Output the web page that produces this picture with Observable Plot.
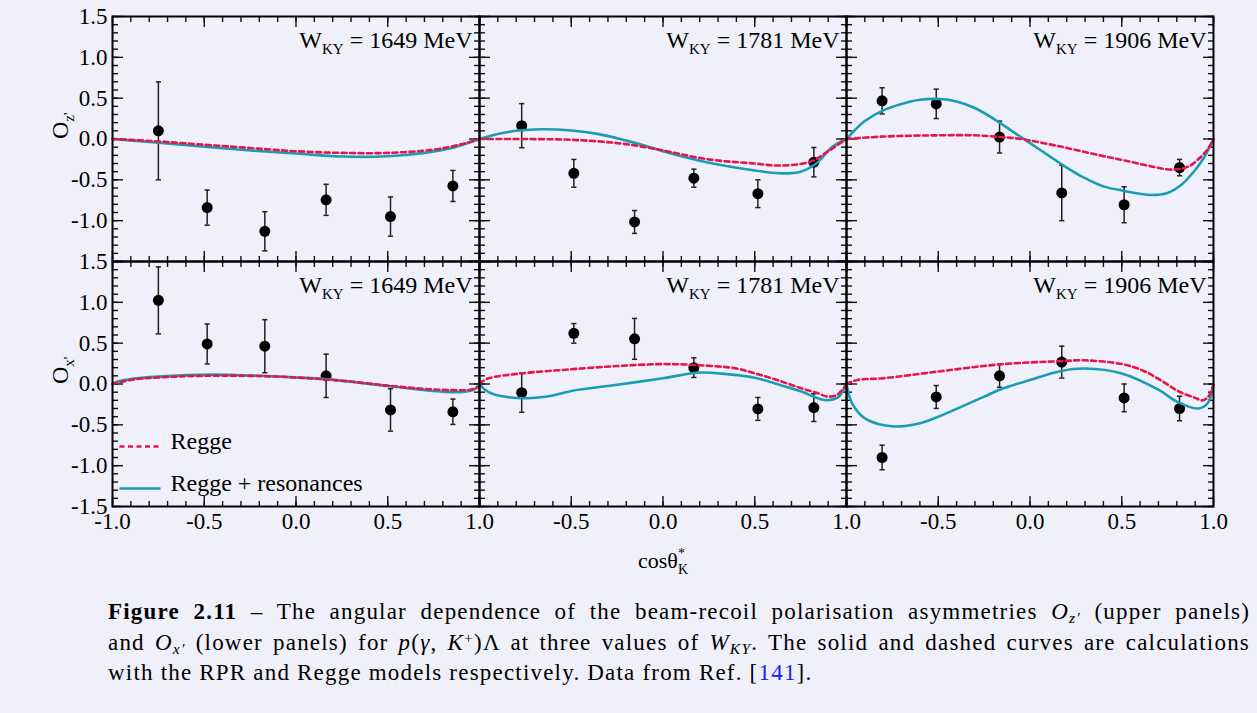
<!DOCTYPE html>
<html>
<head>
<meta charset="utf-8">
<script src="https://cdn.jsdelivr.net/npm/d3@7"></script>
<script src="https://cdn.jsdelivr.net/npm/@observablehq/plot@0.6"></script>
<style>
  html, body { margin: 0; padding: 0; background: #f0f0fb; }
  #chart svg { display: block; }
  #caption {
    position: absolute; left: 108px; top: 597px; width: 1142px;
    font-family: "Liberation Serif", serif; font-size: 23px; line-height: 30.5px; color: #000;
    letter-spacing: 1.2px;
  }
  #caption .j { text-align: justify; text-align-last: justify; }
  #caption sub { font-size: 0.68em; vertical-align: -0.28em; line-height: 0; }
  #caption sup { font-size: 0.68em; vertical-align: 0.45em; line-height: 0; }
  #caption .ref { color: #1a1aff; }
</style>
</head>
<body>
<div id="chart"></div>
<div id="caption">
  <div class="j"><b>Figure 2.11</b> – The angular dependence of the beam-recoil polarisation asymmetries <i>O</i><sub><i>z′</i></sub> (upper panels)</div>
  <div class="j">and <i>O</i><sub><i>x′</i></sub> (lower panels) for <i>p</i>(<i>γ</i>, <i>K</i><sup>+</sup>)Λ at three values of <i>W</i><sub><i>KY</i></sub>. The solid and dashed curves are calculations</div>
  <div>with the RPR and Regge models respectively. Data from Ref. [<span class="ref">141</span>].</div>
</div>
<script>
// Photon energies (panel columns) and observables (panel rows)
const energies = [1649, 1781, 1906];
const observables = ["Oz", "Ox"];
const observableTitles = ["O_{z'}", "O_{x'}"];

// Kaon angles of the measured points at each energy
const cos1649 = [-0.75, -0.484, -0.17, 0.164, 0.515, 0.855];
const cos1781 = [-0.77, -0.486, -0.155, 0.168, 0.517, 0.822];
const cos1906 = [-0.806, -0.511, -0.166, 0.173, 0.513, 0.815];

// Measured O_z' with uncertainties
const oz1649 = [0.10, -0.84, -1.13, -0.745, -0.95, -0.575];
const oz1649Err = [0.60, 0.215, 0.24, 0.19, 0.24, 0.19];
const oz1781 = [0.163, -0.42, -1.016, -0.48, -0.67, -0.284];
const oz1781Err = [0.27, 0.17, 0.14, 0.11, 0.17, 0.18];
const oz1906 = [0.467, 0.43, 0.024, -0.66, -0.805, -0.35];
const oz1906Err = [0.16, 0.18, 0.195, 0.34, 0.22, 0.10];

// Measured O_x' with uncertainties
const ox1649 = [1.024, 0.49, 0.463, 0.10, -0.317, -0.34];
const ox1649Err = [0.41, 0.245, 0.325, 0.265, 0.26, 0.155];
const ox1781 = [-0.106, 0.62, 0.553, 0.20, -0.305, -0.289];
const ox1781Err = [0.24, 0.12, 0.25, 0.12, 0.14, 0.17];
const ox1906 = [-0.90, -0.159, 0.10, 0.268, -0.17, -0.30];
const ox1906Err = [0.15, 0.14, 0.14, 0.195, 0.17, 0.15];

// Model curves [cosθ, value]: Regge (dashed) and Regge + resonances (solid)
const reggeOz1649 = [[-1,0],[-0.75,-0.03],[-0.5,-0.07],[-0.25,-0.11],[0,-0.15],[0.25,-0.17],[0.5,-0.17],[0.75,-0.13],[0.9,-0.065],[1,0]];
const rprOz1649 = [[-1,0],[-0.75,-0.045],[-0.5,-0.094],[-0.25,-0.14],[0,-0.178],[0.25,-0.215],[0.5,-0.212],[0.7,-0.17],[0.85,-0.11],[0.95,-0.04],[1,0]];
const reggeOz1781 = [[-1,0],[-0.75,0],[-0.5,-0.01],[-0.25,-0.05],[-0.07,-0.11],[0.25,-0.25],[0.5,-0.3],[0.63,-0.325],[0.8,-0.28],[0.9,-0.15],[1,0]];
const rprOz1781 = [[-1,0],[-0.9,0.06],[-0.8,0.1],[-0.66,0.12],[-0.5,0.105],[-0.35,0.06],[-0.2,-0.02],[-0.07,-0.1],[0,-0.15],[0.25,-0.29],[0.5,-0.385],[0.63,-0.42],[0.75,-0.4],[0.84,-0.29],[0.92,-0.1],[1,0]];
const reggeOz1906 = [[-1,0],[-0.8,0.03],[-0.5,0.045],[-0.3,0.045],[-0.166,0.025],[-0.05,0],[0.16,-0.09],[0.38,-0.2],[0.51,-0.26],[0.65,-0.33],[0.78,-0.375],[0.87,-0.33],[0.93,-0.22],[0.97,-0.12],[1,0]];
const rprOz1906 = [[-1,0],[-0.95,0.12],[-0.9,0.22],[-0.8,0.35],[-0.7,0.43],[-0.6,0.48],[-0.49,0.49],[-0.4,0.46],[-0.3,0.38],[-0.2,0.25],[-0.1,0.1],[0,-0.05],[0.1,-0.2],[0.2,-0.35],[0.3,-0.48],[0.4,-0.58],[0.5,-0.63],[0.66,-0.685],[0.75,-0.66],[0.82,-0.57],[0.9,-0.38],[0.95,-0.22],[1,0]];

const reggeOx1649 = [[-1,0],[-0.9,0.05],[-0.75,0.08],[-0.5,0.1],[-0.25,0.1],[0,0.08],[0.25,0.04],[0.5,-0.02],[0.7,-0.06],[0.85,-0.075],[0.95,-0.07],[1,-0.03]];
const rprOx1649 = [[-1,0],[-0.97,0.03],[-0.9,0.06],[-0.75,0.09],[-0.45,0.115],[-0.25,0.105],[0,0.08],[0.164,0.06],[0.5,-0.025],[0.8,-0.094],[0.9,-0.1],[0.97,-0.07],[1,0]];
const reggeOx1781 = [[-1,0.01],[-0.95,0.07],[-0.77,0.13],[-0.5,0.18],[-0.25,0.22],[0,0.244],[0.2,0.23],[0.4,0.19],[0.5,0.13],[0.62,0.05],[0.75,-0.05],[0.84,-0.11],[0.9,-0.155],[0.95,-0.13],[1,0]];
const rprOx1781 = [[-1,0],[-0.97,-0.07],[-0.93,-0.12],[-0.85,-0.16],[-0.75,-0.175],[-0.6,-0.14],[-0.5,-0.085],[-0.25,-0.01],[0,0.07],[0.2,0.14],[0.35,0.12],[0.5,0.077],[0.65,-0.02],[0.75,-0.09],[0.88,-0.195],[0.95,-0.17],[0.98,-0.09],[1,0]];
const reggeOx1906 = [[-1,0],[-0.94,0.05],[-0.8,0.07],[-0.51,0.15],[-0.166,0.24],[0.17,0.28],[0.3,0.29],[0.51,0.24],[0.62,0.16],[0.71,0.05],[0.81,-0.09],[0.9,-0.17],[0.94,-0.2],[0.97,-0.16],[1,-0.01]];
const rprOx1906 = [[-1,0],[-0.97,-0.235],[-0.9,-0.42],[-0.74,-0.52],[-0.6,-0.48],[-0.51,-0.41],[-0.25,-0.155],[-0.166,-0.07],[0,0.05],[0.17,0.16],[0.3,0.19],[0.5,0.13],[0.7,-0.07],[0.8,-0.215],[0.92,-0.3],[0.97,-0.23],[1,0]];

// Axis ticks and labels
const xMajorTicks = [-1, -0.5, 0, 0.5, 1];
const xMinorTicks = d3.range(-10, 11).map(i => i / 10);
const xTickLabels = ["-1.0", "-0.5", "0.0", "0.5", "1.0"];
const yMajorTicks = [1.5, 1, 0.5, 0, -0.5, -1, -1.5];
const yMinorTicks = d3.range(-15, 16).map(i => i / 10);
const yTickLabels = ["1.5", "1.0", "0.5", "0.0", "-0.5", "-1.0", "-1.5"];
const xTitle = "cosθ^{*}_{K}";
const legendLabels = ["Regge", "Regge + resonances"];

const reggeColor = "#e3174c";
const rprColor = "#1a9db4";

// Assemble the panel tables
const panels = [
  {W: 1649, obs: "Oz", cos: cos1649, val: oz1649, err: oz1649Err, regge: reggeOz1649, rpr: rprOz1649},
  {W: 1781, obs: "Oz", cos: cos1781, val: oz1781, err: oz1781Err, regge: reggeOz1781, rpr: rprOz1781},
  {W: 1906, obs: "Oz", cos: cos1906, val: oz1906, err: oz1906Err, regge: reggeOz1906, rpr: rprOz1906},
  {W: 1649, obs: "Ox", cos: cos1649, val: ox1649, err: ox1649Err, regge: reggeOx1649, rpr: rprOx1649},
  {W: 1781, obs: "Ox", cos: cos1781, val: ox1781, err: ox1781Err, regge: reggeOx1781, rpr: rprOx1781},
  {W: 1906, obs: "Ox", cos: cos1906, val: ox1906, err: ox1906Err, regge: reggeOx1906, rpr: rprOx1906}
];
const points = panels.flatMap(p => p.cos.map((c, i) => ({W: p.W, obs: p.obs, x: c, v: p.val[i], e: p.err[i]})));
const curveRows = key => panels.flatMap(p => p[key].map(([x, y]) => ({W: p.W, obs: p.obs, key: p.W + p.obs, x, y})));
const reggeRows = curveRows("regge");
const rprRows = curveRows("rpr");

const annotRows = panels.map(p => ({W: p.W, obs: p.obs}));
const yLabelRows = observables.flatMap((obs, r) =>
  yMajorTicks.map((v, i) => ({obs, v, label: yTickLabels[i]}))
    .filter(d => r === observables.length - 1 || d.v > -1.5));
const xLabelRows = energies.flatMap((W, c) =>
  xMajorTicks.map((v, i) => ({W, v, label: xTickLabels[i]}))
    .filter(d => c === 0 || d.v > -1));
const titleRows = observables.map((obs, i) => ({obs, label: observableTitles[i]}));

// Custom symbols: error-bar caps and legend line samples
const capSymbol = {draw(ctx) { ctx.moveTo(-2.6, 0); ctx.lineTo(2.6, 0); }};
const lineSample = {draw(ctx) { ctx.moveTo(0, 0); ctx.lineTo(41, 0); }};

const tickBase = {stroke: "#111", strokeWidth: 1.4, fill: "none", label: null, facetAnchor: null};
const firstCol = () => energies[0];
const lastRow = () => observables[observables.length - 1];

const chart = Plot.plot({
  width: 1257,
  height: 580,
  marginTop: 16,
  marginBottom: 74,
  marginLeft: 112,
  marginRight: 44,
  style: {background: "transparent", fontFamily: "'Liberation Serif', serif", color: "#000", overflow: "visible"},
  fx: {domain: energies, padding: 0, axis: null},
  fy: {domain: observables, padding: 0, axis: null},
  x: {domain: [-1, 1], axis: null},
  y: {domain: [-1.5, 1.5], axis: null},
  marks: [
    // inward ticks on all four sides of every panel
    Plot.axisX({anchor: "bottom", ticks: xMajorTicks, tickSize: -10, ...tickBase}),
    Plot.axisX({anchor: "bottom", ticks: xMinorTicks, tickSize: -5, ...tickBase}),
    Plot.axisX({anchor: "top", ticks: xMajorTicks, tickSize: -10, ...tickBase}),
    Plot.axisX({anchor: "top", ticks: xMinorTicks, tickSize: -5, ...tickBase}),
    Plot.axisY({anchor: "left", ticks: yMajorTicks, tickSize: -11, ...tickBase}),
    Plot.axisY({anchor: "left", ticks: yMinorTicks, tickSize: -6, ...tickBase}),
    Plot.axisY({anchor: "right", ticks: yMajorTicks, tickSize: -11, ...tickBase}),
    Plot.axisY({anchor: "right", ticks: yMinorTicks, tickSize: -6, ...tickBase}),

    // tick labels
    Plot.text(yLabelRows, {fx: firstCol, fy: "obs", y: "v", text: "label", frameAnchor: "left",
      textAnchor: "end", dx: -5, fontSize: 23}),
    Plot.text(xLabelRows, {fx: "W", fy: lastRow, x: "v", text: "label", frameAnchor: "bottom",
      lineAnchor: "top", dy: 6, fontSize: 23}),

    // axis titles
    Plot.text(titleRows, {fx: firstCol, fy: "obs", text: "label", frameAnchor: "left",
      rotate: -90, lineAnchor: "bottom", dx: -45, fontSize: 24}),
    Plot.text([xTitle], {fx: () => energies[1], fy: lastRow, text: d => d, frameAnchor: "bottom",
      lineAnchor: "bottom", dy: 61, fontSize: 22}),

    // energy annotations
    Plot.text(annotRows, {fx: "W", fy: "obs", text: d => `W_{KY} = ${d.W} MeV`, frameAnchor: "top-right",
      textAnchor: "end", lineAnchor: "bottom", dx: -7, dy: 31, fontSize: 24}),

    // data with error bars
    Plot.ruleX(points, {fx: "W", fy: "obs", x: "x", y1: d => d.v - d.e, y2: d => d.v + d.e,
      stroke: "#222", strokeWidth: 1.5}),
    Plot.dot(points, {fx: "W", fy: "obs", x: "x", y: d => d.v + d.e, symbol: capSymbol,
      stroke: "#222", strokeWidth: 1.5, fill: "none"}),
    Plot.dot(points, {fx: "W", fy: "obs", x: "x", y: d => d.v - d.e, symbol: capSymbol,
      stroke: "#222", strokeWidth: 1.5, fill: "none"}),
    Plot.dot(points, {fx: "W", fy: "obs", x: "x", y: "v", r: 5.5, fill: "#000"}),

    // model curves
    Plot.line(rprRows, {fx: "W", fy: "obs", x: "x", y: "y", z: "key", stroke: rprColor,
      strokeWidth: 2.6, curve: "catmull-rom"}),
    Plot.line(reggeRows, {fx: "W", fy: "obs", x: "x", y: "y", z: "key", stroke: reggeColor,
      strokeWidth: 2.6, strokeDasharray: "5,3.5", curve: "catmull-rom"}),

    // legend
    Plot.dot([legendLabels[0]], {fx: firstCol, fy: lastRow, frameAnchor: "bottom-left", dx: 7, dy: -60,
      symbol: lineSample, stroke: reggeColor, strokeWidth: 2.6, strokeDasharray: "5,3.5", fill: "none"}),
    Plot.dot([legendLabels[1]], {fx: firstCol, fy: lastRow, frameAnchor: "bottom-left", dx: 7, dy: -18,
      symbol: lineSample, stroke: rprColor, strokeWidth: 2.6, fill: "none"}),
    Plot.text([legendLabels[0]], {fx: firstCol, fy: lastRow, text: d => d, frameAnchor: "bottom-left",
      textAnchor: "start", dx: 58, dy: -58, fontSize: 24}),
    Plot.text([legendLabels[1]], {fx: firstCol, fy: lastRow, text: d => d, frameAnchor: "bottom-left",
      textAnchor: "start", dx: 58, dy: -15.5, fontSize: 24}),

    Plot.frame({stroke: "#000", strokeWidth: 2})
  ]
});

document.getElementById("chart").append(chart);

// Turn _{...} and ^{...} markup into subscript / superscript tspans
function renderMarkup(el) {
  const src = el.textContent;
  if (!/[_^]\{/.test(src)) return;
  const fs = parseFloat(getComputedStyle(el).fontSize) || 24;
  const small = Math.round(fs * 0.64);
  const subShift = fs * 0.28, supShift = fs * 0.45;
  const ns = "http://www.w3.org/2000/svg";
  el.textContent = "";
  let level = 0, lastSup = null;
  for (const m of src.matchAll(/([_^])\{([^}]*)\}|[^_^]+/g)) {
    const t = document.createElementNS(ns, "tspan");
    let target = 0;
    if (m[1]) {
      target = m[1] === "_" ? subShift : -supShift;
      t.setAttribute("font-size", small);
      t.textContent = m[2];
    } else {
      t.textContent = m[0];
    }
    t.setAttribute("dy", (target - level).toFixed(2));
    if (m[1] === "_" && lastSup) t.setAttribute("dx", (-lastSup.getComputedTextLength()).toFixed(2));
    level = target;
    el.appendChild(t);
    lastSup = m[1] === "^" ? t : null;
  }
}
chart.querySelectorAll("text").forEach(renderMarkup);
</script>
</body>
</html>
